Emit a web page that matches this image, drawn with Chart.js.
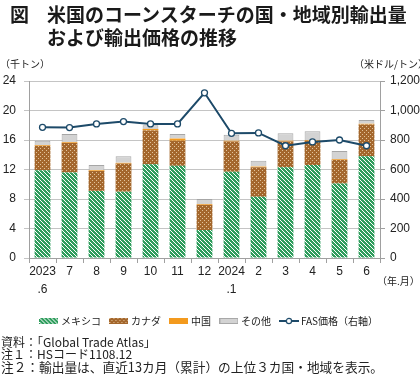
<!DOCTYPE html>
<html lang="ja">
<head>
<meta charset="utf-8">
<script src="https://cdn.jsdelivr.net/npm/chart.js@4.4.1/dist/chart.umd.min.js"></script>
<style>
  html, body { margin: 0; padding: 0; background: #fff; }
  body { width: 420px; height: 375px; position: relative; overflow: hidden;
         font-family: "Liberation Sans", "Noto Sans CJK JP", sans-serif; color: #222; }
  #c { position: absolute; left: 0; top: 0; }
  .t { position: absolute; white-space: nowrap; }
  .title { font-family: "Noto Sans CJK JP", sans-serif; font-weight: bold; font-size: 19px; line-height: 23px; color: #1a1a1a; }
  .unit { font-family: "Noto Sans CJK JP", sans-serif; font-size: 10px; line-height: 13px; }
  .note { font-family: "Noto Sans CJK JP", sans-serif; font-size: 12px; line-height: 14px; }
</style>
</head>
<body>
<canvas id="c" width="420" height="375"></canvas>
<div class="t title" style="left:10px; top:2px;">図</div>
<div class="t title" style="left:47px; top:2px;">米国のコーンスターチの国・地域別輸出量</div>
<div class="t title" style="left:47px; top:25px;">および輸出価格の推移</div>
<div class="t unit" style="left:0px; top:57px;">（千トン）</div>
<div class="t unit" style="left:354px; top:57px;">（米ドル/トン）</div>
<div class="t unit" style="left:377px; top:274px;">（年.月）</div>
<div class="t note" style="left:1px; top:335px;">資料：「Global Trade Atlas」</div>
<div class="t note" style="left:1px; top:347px;">注１：HSコード1108.12</div>
<div class="t note" style="left:1px; top:360px; font-size:12.7px;">注２：輸出量は、直近13カ月（累計）の上位３カ国・地域を表示。</div>
<script>
// ---- data ----
const categories = [["2023", ".6"], "7", "8", "9", "10", "11", "12", ["2024", ".1"], "2", "3", "4", "5", "6"];
const mexico = [11.9, 11.6, 9.1, 9.0, 12.7, 12.5, 3.8, 11.7, 8.3, 12.3, 12.6, 10.1, 13.8];
const canada = [3.3, 4.0, 2.7, 3.8, 4.6, 3.4, 3.4, 4.1, 4.0, 3.5, 3.3, 3.2, 4.3];
const china  = [0.1, 0.1, 0.1, 0.1, 0.2, 0.3, 0.1, 0.1, 0.1, 0.1, 0.1, 0.1, 0.1];
const other  = [0.6, 1.1, 0.7, 0.9, 0.5, 0.6, 0.7, 0.8, 0.8, 1.0, 1.2, 1.1, 0.5];
const fasPrice = [886, 884, 909, 925, 909, 909, 1120, 845, 848, 761, 787, 800, 761];
const leftTicks = [0, 4, 8, 12, 16, 20, 24];
const rightTicks = [0, 200, 400, 600, 800, 1000, 1200];
const seriesNames = ["メキシコ", "カナダ", "中国", "その他", "FAS価格（右軸）"];

// ---- styles ----
const GREEN = "#2f9d5d", BROWN = "#a4672d", ORANGE = "#f39a1e", GRAY = "#d3d3d3", NAVY = "#1d4a69";

function hatchPattern() {
  const c = document.createElement("canvas"); c.width = 4; c.height = 4;
  const x = c.getContext("2d");
  const img = x.createImageData(4, 4);
  for (let j = 0; j < 4; j++) for (let i = 0; i < 4; i++) {
    const k = (j * 4 + i) * 4;
    const white = ((i - j + 8) % 4) === 0;
    const col = white ? [255, 255, 255] : [47, 157, 93];
    img.data[k] = col[0]; img.data[k + 1] = col[1]; img.data[k + 2] = col[2]; img.data[k + 3] = 255;
  }
  x.putImageData(img, 0, 0);
  return c;
}
function dotPattern() {
  const c = document.createElement("canvas"); c.width = 4; c.height = 4;
  const x = c.getContext("2d");
  x.fillStyle = BROWN; x.fillRect(0, 0, 4, 4);
  x.fillStyle = "#e3c49c"; x.fillRect(0, 0, 1, 1); x.fillRect(2, 2, 1, 1);
  return c;
}
const ctx = document.getElementById("c").getContext("2d");
const greenFill = ctx.createPattern(hatchPattern(), "repeat");
const brownFill = ctx.createPattern(dotPattern(), "repeat");

function legendBox(fill, stroke) {
  const c = document.createElement("canvas"); c.width = 19; c.height = 6;
  const x = c.getContext("2d");
  x.fillStyle = fill; x.fillRect(0, 0, 19, 6);
  if (stroke) { x.strokeStyle = stroke; x.lineWidth = 1; x.strokeRect(0.5, 0.5, 18, 5); }
  return c;
}
function legendLine() {
  const c = document.createElement("canvas"); c.width = 20; c.height = 8;
  const x = c.getContext("2d");
  x.strokeStyle = NAVY; x.lineWidth = 2;
  x.beginPath(); x.moveTo(0, 4); x.lineTo(20, 4); x.stroke();
  x.fillStyle = "#fff"; x.lineWidth = 1.2;
  x.beginPath(); x.arc(10, 4, 2.6, 0, Math.PI * 2); x.fill(); x.stroke();
  return c;
}
const legendImgs = [
  legendBox(ctx.createPattern(hatchPattern(), "repeat")),
  legendBox(ctx.createPattern(dotPattern(), "repeat")),
  legendBox(ORANGE),
  legendBox(GRAY, "#a8a8a8"),
  legendLine()
];

const font = { family: "'Liberation Sans', 'Noto Sans CJK JP', sans-serif", size: 12 };

new Chart(ctx, {
  data: {
    labels: categories,
    datasets: [
      { type: "bar", label: seriesNames[0], data: mexico, backgroundColor: greenFill, borderWidth: 0, stack: "s", yAxisID: "y", order: 2 },
      { type: "bar", label: seriesNames[1], data: canada, backgroundColor: brownFill, borderWidth: 0, stack: "s", yAxisID: "y", order: 2 },
      { type: "bar", label: seriesNames[2], data: china, backgroundColor: ORANGE, borderWidth: 0, stack: "s", yAxisID: "y", order: 2 },
      { type: "bar", label: seriesNames[3], data: other, backgroundColor: GRAY, borderColor: "#a6a6a6", borderWidth: 1, stack: "s", yAxisID: "y", order: 2 },
      { type: "line", label: seriesNames[4], data: fasPrice, yAxisID: "y2", borderColor: NAVY, borderWidth: 2,
        pointRadius: 3, pointBackgroundColor: "#fff", pointBorderColor: NAVY, pointBorderWidth: 1.3, tension: 0, order: 0 }
    ]
  },
  options: {
    responsive: false,
    animation: false,
    devicePixelRatio: 1,
    layout: { padding: { top: 81, left: 0, right: 0, bottom: 39 } },
    datasets: { bar: { categoryPercentage: 1.0, barPercentage: 0.585 } },
    plugins: {
      legend: {
        position: "bottom",
        labels: {
          font: { family: "'Noto Sans CJK JP', sans-serif", size: 10 },
          color: "#222",
          usePointStyle: true,
          pointStyleWidth: 14,
          padding: 11,
          generateLabels: (chart) => chart.data.datasets.map((ds, i) => ({
            text: ds.label, pointStyle: legendImgs[i], datasetIndex: i, hidden: false,
            fillStyle: "#000", strokeStyle: "#000", lineWidth: 0, fontColor: "#222"
          }))
        }
      },
      tooltip: { enabled: false }
    },
    scales: {
      x: {
        stacked: true,
        offset: true,
        grid: { offset: true, drawOnChartArea: false, drawTicks: true, tickLength: 5, color: "#a0a0a0" },
        border: { color: "#a0a0a0" },
        ticks: { font: Object.assign({}, font, { lineHeight: 1.5 }), color: "#222", maxRotation: 0, autoSkip: false, padding: 0 },
        afterFit: (s) => { s.height = 47; }
      },
      y: {
        position: "left",
        stacked: true,
        min: 0, max: 24,
        afterBuildTicks: (s) => { s.ticks = leftTicks.map(v => ({ value: v })); },
        grid: { color: "#c4c4c4", tickLength: 5, drawTicks: true },
        border: { color: "#a0a0a0" },
        ticks: { font, color: "#222", padding: 8 },
        afterFit: (s) => { s.width = 29; }
      },
      y2: {
        position: "right",
        min: 0, max: 1200,
        afterBuildTicks: (s) => { s.ticks = rightTicks.map(v => ({ value: v })); },
        grid: { drawOnChartArea: false, tickLength: 5, color: "#a0a0a0" },
        border: { color: "#a0a0a0" },
        ticks: { font, color: "#222", padding: 5, callback: (v) => v.toLocaleString("en-US") },
        afterFit: (s) => { s.width = 40; }
      }
    }
  }
});
</script>
</body>
</html>
